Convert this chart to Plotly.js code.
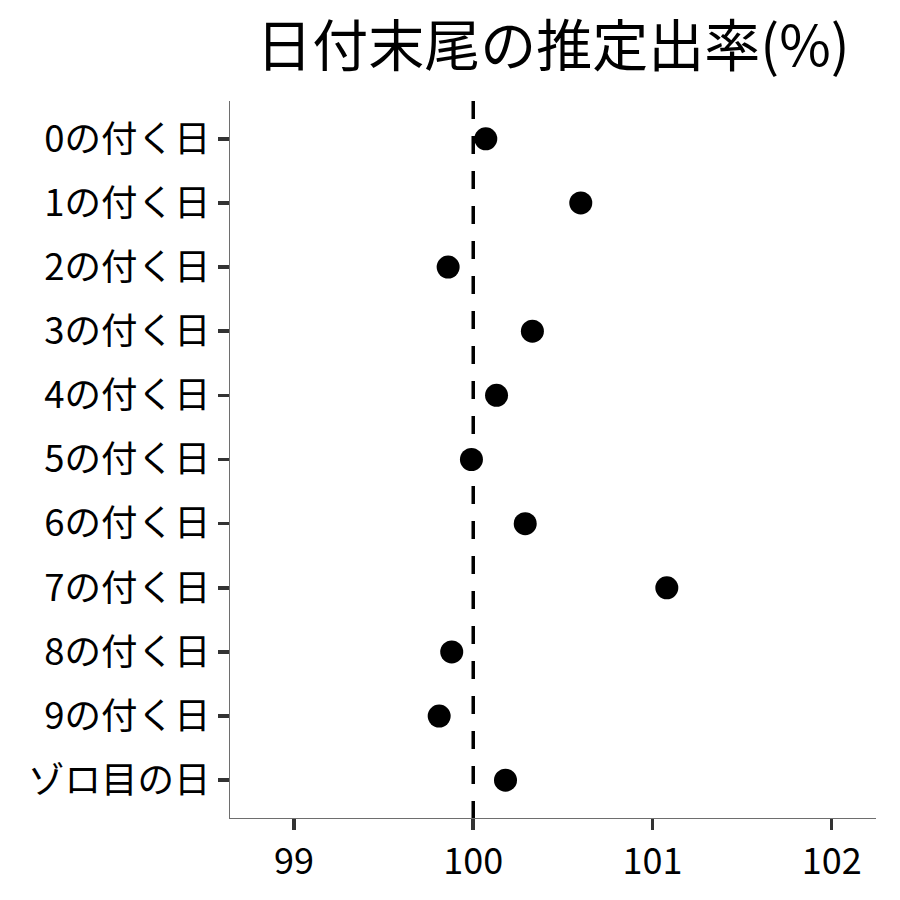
<!DOCTYPE html>
<html>
<head>
<meta charset="utf-8">
<script src="https://cdn.plot.ly/plotly-3.0.1.min.js"></script>
<style>html,body{margin:0;padding:0;background:#fff;}#chart{width:900px;height:900px;}</style>
</head>
<body>
<div id="chart"></div>
<script>
const categories = ["0の付く日","1の付く日","2の付く日","3の付く日","4の付く日","5の付く日","6の付く日","7の付く日","8の付く日","9の付く日","ゾロ目の日"];
const rates = [100.07, 100.60, 99.86, 100.33, 100.13, 99.99, 100.29, 101.08, 99.88, 99.81, 100.18];
const referenceRate = 100;
const xTicks = [99, 100, 101, 102];
const titleText = "日付末尾の推定出率(%)";

const font = "'Noto Sans CJK JP', 'Noto Sans', sans-serif";

const trace = {
  type: 'scatter',
  mode: 'markers',
  x: rates,
  y: categories,
  marker: {color: '#000000', size: 23, line: {width: 0}},
  hoverinfo: 'x+y'
};

const layout = {
  width: 900, height: 900,
  margin: {l: 230, r: 24, t: 101, b: 82},
  paper_bgcolor: '#ffffff',
  plot_bgcolor: '#ffffff',
  showlegend: false,
  font: {family: font, color: '#000000'},
  title: {
    text: titleText,
    font: {family: font, size: 56, color: '#000000'},
    x: 0.5, xanchor: 'center', xref: 'paper',
    y: 0.948, yanchor: 'middle'
  },
  xaxis: {
    range: [98.643, 102.247],
    tickvals: xTicks,
    ticktext: xTicks.map(String),
    showgrid: false, zeroline: false,
    showline: true, linecolor: '#6e6e6e', linewidth: 1.3,
    ticks: 'outside', ticklen: 11, tickwidth: 3.5, tickcolor: '#333333',
    tickfont: {family: font, size: 36, color: '#000000'},
    fixedrange: true
  },
  yaxis: {
    type: 'category',
    categoryorder: 'array',
    categoryarray: categories,
    range: [10.59, -0.59],
    showgrid: false, zeroline: false,
    showline: true, linecolor: '#6e6e6e', linewidth: 1.3,
    ticks: 'outside', ticklen: 11, tickwidth: 3.5, tickcolor: '#333333',
    tickfont: {family: font, size: 36.5, color: '#000000'},
    fixedrange: true
  },
  shapes: [{
    type: 'line', layer: 'below',
    xref: 'x', yref: 'paper',
    x0: referenceRate, x1: referenceRate, y0: 1, y1: 0,
    line: {color: '#000000', width: 3.5, dash: '18px,17px'}
  }]
};

Plotly.newPlot('chart', [trace], layout, {displayModeBar: false, staticPlot: true});
</script>
</body>
</html>
